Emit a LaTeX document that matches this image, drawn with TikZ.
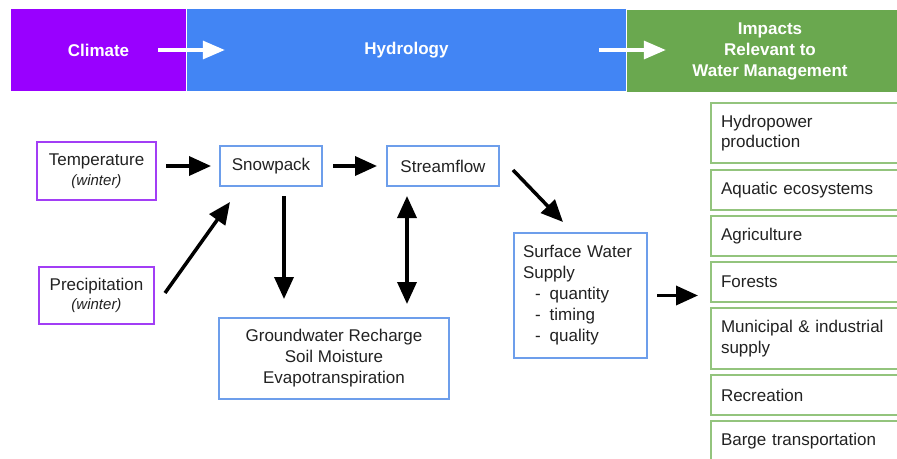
\documentclass[tikz,border=0pt]{standalone}
\usepackage{fontspec}
\setmainfont{Liberation Sans}
\usetikzlibrary{arrows.meta}

\definecolor{climatebg}{HTML}{9900FF}
\definecolor{hydrobg}{HTML}{4285F4}
\definecolor{impactbg}{HTML}{6AA84F}
\definecolor{edgepurple}{HTML}{A23EF5}
\definecolor{edgeblue}{HTML}{6D9EEB}
\definecolor{edgegreen}{HTML}{93C47D}
\definecolor{ink}{HTML}{222222}

\tikzset{
  banner/.style={rectangle, draw=none, minimum height=82pt, inner sep=0pt,
    text=white, font=\fontsize{17}{21}\selectfont\bfseries, align=center},
  driverbox/.style={rectangle, draw=edgepurple, line width=2pt, fill=white,
    text=ink, align=center, inner sep=0pt},
  hydrobox/.style={rectangle, draw=edgeblue, line width=2pt, fill=white,
    text=ink, align=center, inner sep=0pt},
  impactbox/.style={rectangle, draw=edgegreen, line width=2pt, fill=white,
    text=ink, align=left, text width=169pt, inner xsep=10pt, inner ysep=0pt,
    minimum width=189pt},
  flow/.style={line width=3.5pt, draw=black,
    -{Triangle[length=22pt,width=19pt]}},
  bothflow/.style={line width=3.5pt, draw=black,
    {Triangle[length=22pt,width=19pt]}-{Triangle[length=22pt,width=19pt]}},
  stage/.style={line width=3.2pt, draw=white,
    -{Triangle[length=22pt,width=18pt]}},
}

\begin{document}
\begin{tikzpicture}[x=1pt, y=-1pt, font=\fontsize{17}{20.5}\selectfont]
\useasboundingbox (0,0) rectangle (897,458);
\clip (0,0) rectangle (897,458);

% header band
\node[banner, fill=climatebg, minimum width=175pt] (climate) at (98.5,50) {Climate};
\node[banner, fill=hydrobg, minimum width=439pt] (hydro) at (406.5,50) {Hydrology};
\node[banner, fill=impactbg, minimum width=286pt] (impacts) at (770,51)
  {Impacts\\Relevant to\\Water Management};

\draw[stage] ([xshift=-28pt]climate.east) -- ([xshift=38pt]hydro.west);
\draw[stage] ([xshift=-27pt]hydro.east) -- ([xshift=39pt]impacts.west |- hydro.east);

% climate drivers
\node[driverbox, minimum width=119pt, minimum height=58pt] (temp) at (96.5,171)
  {Temperature\\[-1pt]{\fontsize{15}{18}\selectfont\itshape (winter)}};
\node[driverbox, minimum width=115pt, minimum height=57pt] (precip) at (96.5,295.5)
  {Precipitation\\[-1pt]{\fontsize{15}{18}\selectfont\itshape (winter)}};

% hydrology
\node[hydrobox, minimum width=102pt, minimum height=40pt] (snow) at (271,166) {Snowpack};
\node[hydrobox, minimum width=112pt, minimum height=40pt] (stream) at (443,166) {Streamflow};
\node[hydrobox, minimum width=230pt, minimum height=81pt,
  font=\fontsize{17}{21}\selectfont] (ground) at (334,358.5)
  {Groundwater Recharge\\Soil Moisture\\Evapotranspiration};
\node[hydrobox, minimum width=133pt, minimum height=125pt, align=left,
  text width=115pt, inner xsep=9pt, font=\fontsize{17}{21}\selectfont] (surface) at (580.5,295.5)
  {Surface Water\\Supply\\
   \hspace*{12pt}-\hspace{9pt}quantity\\
   \hspace*{12pt}-\hspace{9pt}timing\\
   \hspace*{12pt}-\hspace{9pt}quality};

% water management impacts
\node[impactbox, minimum height=60pt] (power) at (805.5,133) {Hydropower\\production};
\node[impactbox, minimum height=40pt] (aquatic) at (805.5,190) {Aquatic ecosystems};
\node[impactbox, minimum height=40pt] (agri) at (805.5,236) {Agriculture};
\node[impactbox, minimum height=40pt] (forest) at (805.5,282) {Forests};
\node[impactbox, minimum height=61pt] (muni) at (805.5,338.5) {Municipal \& industrial\\supply};
\node[impactbox, minimum height=40pt] (recre) at (805.5,395) {Recreation};
\node[impactbox, minimum height=40pt] (barge) at (805.5,441) {Barge transportation};

% connectors
\draw[flow, shorten <=9pt, shorten >=8pt] (temp.east |- snow.west) -- (snow.west);
\draw[flow, shorten <=10pt, shorten >=9pt] (snow.east) -- (stream.west);
\draw[flow] ([xshift=10pt,yshift=2.5pt]precip.east) -- ([xshift=11pt,yshift=-15pt]snow.south west);
\draw[flow] ([xshift=13pt,yshift=-9pt]snow.south) -- ([xshift=-50pt,yshift=18pt]ground.north);
\draw[bothflow] ([xshift=-36pt,yshift=-9pt]stream.south) -- ([xshift=73pt,yshift=13pt]ground.north);
\draw[flow] ([xshift=13pt,yshift=-4pt]stream.east) -- ([xshift=-17.5pt,yshift=10pt]surface.north);
\draw[flow, shorten <=9pt, shorten >=12pt] (surface.east) -- (surface.east -| forest.west);
\end{tikzpicture}
\end{document}
